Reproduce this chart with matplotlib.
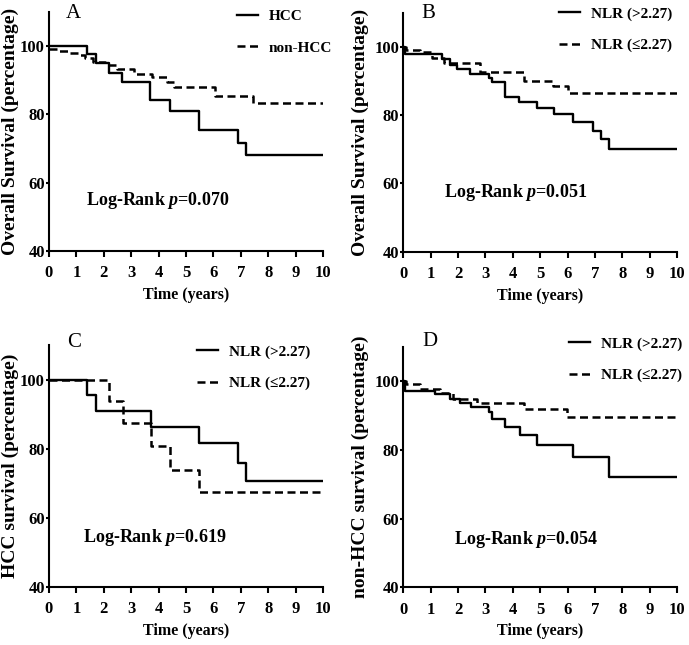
import matplotlib
matplotlib.use("Agg")
import matplotlib.pyplot as plt

plt.rcParams['font.family'] = ['Liberation Serif', 'DejaVu Serif']
plt.rcParams['font.weight'] = 'bold'
plt.rcParams['mathtext.fontset'] = 'custom'
plt.rcParams['mathtext.it'] = 'Liberation Serif:italic:bold'
plt.rcParams['mathtext.rm'] = 'Liberation Serif:bold'

# panel A: HCC vs non-HCC
a_hcc_t = [0, 1.40, 1.70, 2.18, 2.68, 3.69, 4.42, 5.49, 6.89, 7.20, 10]
a_hcc_v = [100, 97.6, 94.9, 92.0, 89.6, 84.1, 81.1, 75.5, 71.6, 68.1, 68.1]
a_non_t = [0, 0.35, 0.75, 1.05, 1.3, 1.6, 2.05, 2.5, 3.1, 3.75, 4.3, 4.55, 6.05, 7.45, 10]
a_non_v = [99.2, 98.6, 98.0, 97.3, 96.5, 95.3, 94.4, 93.4, 91.9, 90.8, 89.5, 88.0, 85.4, 83.3, 83.3]

# panel B: all patients by NLR
b_hi_t = [0, 0.08, 1.40, 1.70, 1.95, 2.45, 3.13, 3.22, 3.71, 4.24, 4.88, 5.50, 6.20, 6.93, 7.20, 7.52, 10]
b_hi_v = [100, 97.9, 96.5, 94.8, 93.6, 92.1, 91.0, 89.6, 85.3, 83.7, 82.0, 80.2, 77.9, 75.3, 72.9, 70.2, 70.2]
b_lo_t = [0, 0.1, 0.6, 1.05, 1.5, 2.8, 4.4, 5.48, 6.0, 10]
b_lo_v = [100, 99.2, 98.6, 96.6, 95.4, 92.7, 90.0, 88.4, 86.4, 86.4]

# panel C: HCC by NLR
c_hi_t = [0, 1.40, 1.70, 3.71, 5.48, 6.89, 7.20, 10]
c_hi_v = [100, 95.4, 90.8, 86.2, 81.5, 75.9, 70.5, 70.5]
c_lo_t = [0, 2.19, 2.71, 3.71, 4.41, 5.48, 10]
c_lo_v = [100, 93.8, 87.4, 80.8, 73.9, 67.3, 67.3]

# panel D: non-HCC by NLR
d_hi_t = [0, 0.06, 1.16, 1.70, 2.06, 2.48, 3.13, 3.22, 3.73, 4.27, 4.88, 6.20, 7.51, 10]
d_hi_v = [100, 97.1, 96.3, 94.9, 93.7, 92.4, 90.9, 89.0, 86.5, 84.4, 81.5, 77.8, 72.2, 72.2]
d_lo_t = [0, 0.1, 0.6, 1.35, 1.8, 2.7, 4.4, 5.97, 9.9]
d_lo_v = [100, 99.0, 97.6, 96.6, 94.9, 93.5, 92.0, 89.5, 89.5]

xticks = list(range(0, 11))
yticks = [40, 60, 80, 100]

panels = [
    dict(rect=[0.0711, 0.6113, 0.3977, 0.3701], letter="A", let_xy=(0.61, 109.6),
         ylabel="Overall Survival (percentage)", ylx=-0.11,
         s1=(a_hcc_t, a_hcc_v, "HCC"), s2=(a_non_t, a_non_v, "non-HCC"),
         ptext="0.070", pxy=(1.35, 53.4), leg=(0.686, 1.01)),
    dict(rect=[0.5853, 0.6098, 0.3977, 0.3705], letter="B", let_xy=(0.67, 109.9),
         ylabel="Overall Survival (percentage)", ylx=-0.125,
         s1=(b_hi_t, b_hi_v, "NLR (>2.27)"), s2=(b_lo_t, b_lo_v, "NLR (\u22642.27)"),
         ptext="0.051", pxy=(1.49, 56.1), leg=(0.568, 1.025)),
    dict(rect=[0.0711, 0.0904, 0.3977, 0.3747], letter="C", let_xy=(0.65, 110.6),
         ylabel="HCC survival (percentage)", ylx=-0.11,
         s1=(c_hi_t, c_hi_v, "NLR (>2.27)"), s2=(c_lo_t, c_lo_v, "NLR (\u22642.27)"),
         ptext="0.619", pxy=(1.24, 52.8), leg=(0.539, 1.0)),
    dict(rect=[0.5853, 0.0895, 0.3977, 0.3730], letter="D", let_xy=(0.69, 111.4),
         ylabel="non-HCC survival (percentage)", ylx=-0.125,
         s1=(d_hi_t, d_hi_v, "NLR (>2.27)"), s2=(d_lo_t, d_lo_v, "NLR (\u22642.27)"),
         ptext="0.054", pxy=(1.85, 52.7), leg=(0.605, 1.04)),
]

fig = plt.figure(figsize=(6.89, 6.45), dpi=100)

for p in panels:
    ax = fig.add_axes(p["rect"])
    t1, v1, lab1 = p["s1"]
    t2, v2, lab2 = p["s2"]
    ax.step(t1, v1, where="post", color="black", lw=1.7, label=lab1)
    ax.step(t2, v2, where="post", color="black", lw=1.8, linestyle=(0, (3.2, 1.8)), label=lab2)

    ax.set_xlim(0, 10)
    ax.set_ylim(40, 110)
    ax.set_xticks(xticks)
    ax.set_yticks(yticks)
    for s in ["top", "right"]:
        ax.spines[s].set_visible(False)
    for s in ["left", "bottom"]:
        ax.spines[s].set_linewidth(1.5)
    ax.tick_params(axis="x", direction="out", length=4.5, width=1.5, pad=6, labelsize=12)
    ax.tick_params(axis="y", direction="out", length=2.5, width=1.5, pad=0.5, labelsize=12)
    for lbl in ax.get_xticklabels() + ax.get_yticklabels():
        lbl.set_fontweight("bold")

    ax.set_xlabel("Time (years)", fontsize=11.5, fontweight="bold")
    ax.xaxis.set_label_coords(0.5, -0.15)
    ax.set_ylabel(p["ylabel"], fontsize=14, fontweight="bold")
    ax.yaxis.set_label_coords(p["ylx"], 0.5)

    ax.text(p["pxy"][0], p["pxy"][1], "Log-Rank $p$=" + p["ptext"],
            fontsize=13, fontweight="bold", va="baseline", ha="left")
    ax.text(p["let_xy"][0], p["let_xy"][1], p["letter"], fontsize=15,
            fontweight="normal", va="center", ha="left", clip_on=False)

    ax.legend(loc="upper left", bbox_to_anchor=p["leg"], frameon=False,
              prop={"size": 11, "weight": "bold"}, handlelength=1.4,
              handletextpad=0.7, labelspacing=1.15, borderpad=0, borderaxespad=0)

fig.savefig("out.png", dpi=100)
